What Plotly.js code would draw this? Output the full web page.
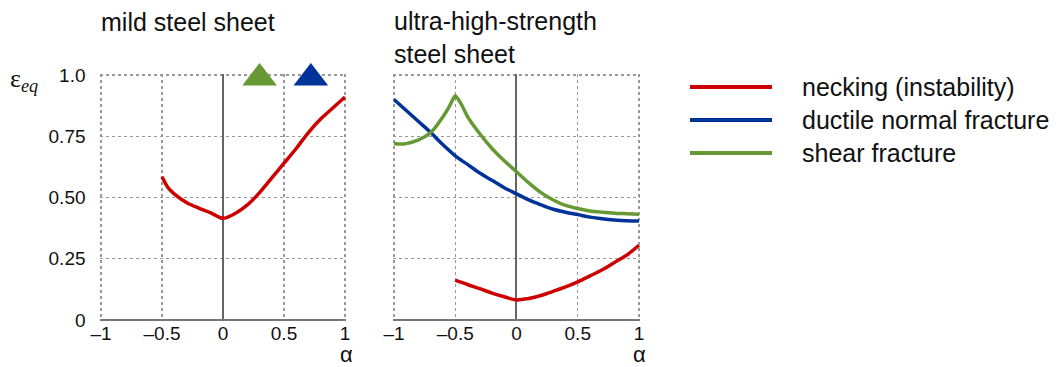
<!DOCTYPE html>
<html><head><meta charset="utf-8">
<script src="https://cdn.plot.ly/plotly-3.0.1.min.js"></script>
<style>html,body{margin:0;padding:0;background:#fff}#chart{width:1061px;height:367px}</style>
</head><body><div id="chart"></div>
<script>
// ---- data ----
const xTickVals = [-1, -0.5, 0, 0.5, 1];
const xTickText = ['\u20131', '\u20130.5', '0', '0.5', '1'];
const yTickVals = [0, 0.25, 0.5, 0.75, 1.0];
const yTickText = ['0', '0.25', '0.50', '0.75', '1.0'];

// mild steel sheet: necking
const mildNeckX = [-0.5, -0.45, -0.4, -0.3, -0.2, -0.1, 0, 0.1, 0.2, 0.3, 0.4, 0.5, 0.6, 0.7, 0.8, 0.9, 1.0];
const mildNeckY = [0.585, 0.54, 0.515, 0.48, 0.457, 0.437, 0.415, 0.435, 0.47, 0.52, 0.58, 0.64, 0.70, 0.765, 0.82, 0.865, 0.91];
// mild steel sheet: fracture markers (off-scale indicators)
const mildShearX = [0.3];
const mildShearY = [0.988];
const mildDuctileX = [0.72];
const mildDuctileY = [0.988];

// ultra-high-strength steel sheet
const uhsDuctX = [-1, -0.9, -0.8, -0.7, -0.6, -0.5, -0.4, -0.3, -0.2, -0.1, 0, 0.1, 0.2, 0.3, 0.4, 0.5, 0.6, 0.7, 0.8, 0.9, 1.0];
const uhsDuctY = [0.90, 0.855, 0.81, 0.765, 0.715, 0.67, 0.635, 0.60, 0.57, 0.54, 0.515, 0.49, 0.47, 0.452, 0.44, 0.43, 0.42, 0.413, 0.408, 0.405, 0.404];
const uhsShearX = [-1, -0.95, -0.9, -0.8, -0.7, -0.6, -0.55, -0.5, -0.45, -0.4, -0.3, -0.2, -0.1, 0, 0.1, 0.2, 0.3, 0.4, 0.5, 0.6, 0.7, 0.8, 0.9, 1.0];
const uhsShearY = [0.72, 0.718, 0.72, 0.735, 0.765, 0.83, 0.87, 0.915, 0.88, 0.83, 0.76, 0.70, 0.65, 0.605, 0.56, 0.52, 0.49, 0.468, 0.455, 0.445, 0.44, 0.436, 0.434, 0.432];
const uhsNeckX = [-0.5, -0.4, -0.3, -0.2, -0.1, 0, 0.1, 0.2, 0.3, 0.4, 0.5, 0.6, 0.7, 0.8, 0.9, 1.0];
const uhsNeckY = [0.163, 0.145, 0.128, 0.11, 0.095, 0.082, 0.088, 0.10, 0.117, 0.135, 0.156, 0.18, 0.205, 0.235, 0.265, 0.305];

const seriesNames = ['necking (instability)', 'ductile normal fracture', 'shear fracture'];
const RED = '#cc0000', BLUE = '#003399', GREEN = '#669933';
const seriesColors = [RED, BLUE, GREEN];

const FONT = 'Liberation Sans, Arial, sans-serif';

const traces = [
  {x: mildNeckX, y: mildNeckY, xaxis: 'x', yaxis: 'y', mode: 'lines', line: {color: RED, width: 3.5, shape: 'spline', smoothing: 0.8}, name: seriesNames[0], showlegend: false},
  {x: mildShearX, y: mildShearY, xaxis: 'x', yaxis: 'y', mode: 'markers', marker: {symbol: 'triangle-up', size: 30, color: GREEN}, cliponaxis: false, showlegend: false},
  {x: mildDuctileX, y: mildDuctileY, xaxis: 'x', yaxis: 'y', mode: 'markers', marker: {symbol: 'triangle-up', size: 30, color: BLUE}, cliponaxis: false, showlegend: false},
  {x: uhsDuctX, y: uhsDuctY, xaxis: 'x2', yaxis: 'y2', mode: 'lines', line: {color: BLUE, width: 3.5, shape: 'spline'}, name: seriesNames[1], showlegend: false},
  {x: uhsShearX, y: uhsShearY, xaxis: 'x2', yaxis: 'y2', mode: 'lines', line: {color: GREEN, width: 3.5, shape: 'spline', smoothing: 0.6}, name: seriesNames[2], showlegend: false},
  {x: uhsNeckX, y: uhsNeckY, xaxis: 'x2', yaxis: 'y2', mode: 'lines', line: {color: RED, width: 3.5, shape: 'spline'}, name: seriesNames[0], showlegend: false}
];

const W = 1061, H = 367;
const px = v => v / W, py = v => 1 - v / H;
const XPAD = 0.012, YPAD = 0.006;   // tiny range padding so edge gridlines are drawn

const xaxisBase = {
  range: [-1 - XPAD, 1 + XPAD], tickvals: xTickVals, ticktext: xTickText,
  showgrid: true, gridcolor: '#999', griddash: 'dot', gridwidth: 1.3,
  zeroline: true, zerolinecolor: '#666', zerolinewidth: 2,
  showline: false, ticks: '', tickfont: {family: FONT, size: 19, color: '#111'},
  fixedrange: true
};
const yaxisBase = {
  range: [0, 1 + YPAD], tickvals: yTickVals, ticktext: yTickText,
  showgrid: true, gridcolor: '#999', griddash: 'dot', gridwidth: 1.3,
  zeroline: true, zerolinecolor: '#777', zerolinewidth: 2,
  showline: false, ticks: '', tickfont: {family: FONT, size: 19, color: '#111'},
  fixedrange: true
};

const annotations = [
  {text: 'mild steel sheet', xref: 'paper', yref: 'paper', x: px(99), y: py(22), xanchor: 'left', yanchor: 'middle', showarrow: false, font: {family: FONT, size: 25, color: '#111'}},
  {text: 'ultra-high-strength<br>steel sheet', xref: 'paper', yref: 'paper', x: px(392), y: py(37), xanchor: 'left', yanchor: 'middle', align: 'left', showarrow: false, font: {family: FONT, size: 25, color: '#111'}},
  {text: '\u03b1', xref: 'paper', yref: 'paper', x: px(346), y: py(354), xanchor: 'center', yanchor: 'middle', showarrow: false, font: {family: FONT, size: 22, color: '#111'}},
  {text: '\u03b1', xref: 'paper', yref: 'paper', x: px(639), y: py(354), xanchor: 'center', yanchor: 'middle', showarrow: false, font: {family: FONT, size: 22, color: '#111'}},
  {text: '\u03b5<sub><i>eq</i></sub>', xref: 'paper', yref: 'paper', x: px(8), y: py(80), xanchor: 'left', yanchor: 'middle', showarrow: false, font: {family: 'Liberation Serif, serif', size: 26, color: '#111'}}
];
const shapes = [];
const legendY = [87, 120, 153];
seriesNames.forEach((n, i) => {
  shapes.push({type: 'line', xref: 'paper', yref: 'paper', x0: px(690), x1: px(772), y0: py(legendY[i]), y1: py(legendY[i]), line: {color: seriesColors[i], width: 4}});
  annotations.push({text: n, xref: 'paper', yref: 'paper', x: px(800), y: py(legendY[i]), xanchor: 'left', yanchor: 'middle', showarrow: false, font: {family: FONT, size: 25, color: '#111'}});
});

const xd = (a, b) => [px(a - XPAD * 122), px(b + XPAD * 122)];
const layout = {
  width: W, height: H, margin: {l: 0, r: 0, t: 0, b: 0},
  paper_bgcolor: '#fff', plot_bgcolor: '#fff', showlegend: false,
  xaxis: Object.assign({}, xaxisBase, {domain: xd(101, 345), anchor: 'y'}),
  yaxis: Object.assign({}, yaxisBase, {domain: [py(320), py(75 - YPAD * 245)], anchor: 'x', ticklabelstandoff: 13}),
  xaxis2: Object.assign({}, xaxisBase, {domain: xd(394, 639), anchor: 'y2'}),
  yaxis2: Object.assign({}, yaxisBase, {domain: [py(320), py(75 - YPAD * 245)], anchor: 'x2', showticklabels: false}),
  annotations: annotations, shapes: shapes
};
Plotly.newPlot('chart', traces, layout, {displayModeBar: false, staticPlot: true});
</script></body></html>
